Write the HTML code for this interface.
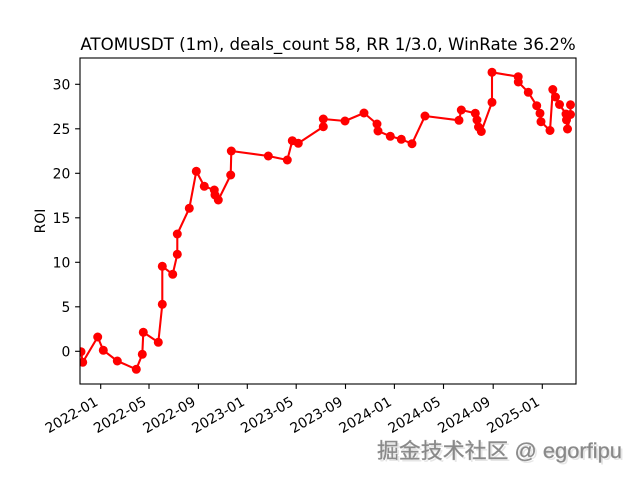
<!DOCTYPE html>
<html>
<head>
<meta charset="utf-8">
<style>
html,body{margin:0;padding:0;background:#fff;}
svg{display:block;}
text{font-family:"DejaVu Sans","Liberation Sans",sans-serif;fill:#000;}
</style>
</head>
<body>
<svg width="640" height="480" viewBox="0 0 640 480" xmlns="http://www.w3.org/2000/svg">
<rect x="0" y="0" width="640" height="480" fill="#fff"/>
<defs>
<clipPath id="ax"><rect x="80" y="58" width="496" height="326"/></clipPath>
</defs>

<!-- title -->
<text x="328" y="50" font-size="16.67" text-anchor="middle">ATOMUSDT (1m), deals_count 58, RR 1/3.0, WinRate 36.2%</text>

<!-- data -->
<g clip-path="url(#ax)">
<polyline fill="none" stroke="#ff0000" stroke-width="2.08" stroke-linejoin="round" points="
81,351.7 82.7,362.3 97.7,337 103.3,350.3 117.3,361 136.3,369.3 142.3,354.3 143.3,332.3 158.3,342.3 162.3,304.3 162.3,266.3 172.7,274.3 177.3,254.3 177.3,234 189.3,208.3 196.3,171.3 204.3,186.3 214.3,190 215,195 218.3,200 230.7,175 231.3,151 268.3,156 287.3,160 292.3,140.7 298.3,143.3 323.3,126.7 323.3,119 345,121 364,113 377,124 378,131 390.3,136.3 401.3,139.3 412,143.7 425,116 459,120.3 461.3,110 475.3,113.3 477,120 478.5,127 481.3,131.5 492,102.3 492,72.3 518.2,76.7 518.3,82 528.3,92.3 536.7,105.7 540,113.3 541,121.7 550,130.5 552.8,89.5 555.5,97 559.5,104.5 566,114 566.5,120 567.5,129 570.5,114.5 570.5,104.8"/>
<g fill="#ff0000">
<circle cx="81" cy="351.7" r="4.5"/><circle cx="82.7" cy="362.3" r="4.5"/><circle cx="97.7" cy="337" r="4.5"/><circle cx="103.3" cy="350.3" r="4.5"/><circle cx="117.3" cy="361" r="4.5"/><circle cx="136.3" cy="369.3" r="4.5"/><circle cx="142.3" cy="354.3" r="4.5"/><circle cx="143.3" cy="332.3" r="4.5"/><circle cx="158.3" cy="342.3" r="4.5"/><circle cx="162.3" cy="304.3" r="4.5"/><circle cx="162.3" cy="266.3" r="4.5"/><circle cx="172.7" cy="274.3" r="4.5"/><circle cx="177.3" cy="254.3" r="4.5"/><circle cx="177.3" cy="234" r="4.5"/><circle cx="189.3" cy="208.3" r="4.5"/><circle cx="196.3" cy="171.3" r="4.5"/><circle cx="204.3" cy="186.3" r="4.5"/><circle cx="214.3" cy="190" r="4.5"/><circle cx="215" cy="195" r="4.5"/><circle cx="218.3" cy="200" r="4.5"/><circle cx="230.7" cy="175" r="4.5"/><circle cx="231.3" cy="151" r="4.5"/><circle cx="268.3" cy="156" r="4.5"/><circle cx="287.3" cy="160" r="4.5"/><circle cx="292.3" cy="140.7" r="4.5"/><circle cx="298.3" cy="143.3" r="4.5"/><circle cx="323.3" cy="126.7" r="4.5"/><circle cx="323.3" cy="119" r="4.5"/><circle cx="345" cy="121" r="4.5"/><circle cx="364" cy="113" r="4.5"/><circle cx="377" cy="124" r="4.5"/><circle cx="378" cy="131" r="4.5"/><circle cx="390.3" cy="136.3" r="4.5"/><circle cx="401.3" cy="139.3" r="4.5"/><circle cx="412" cy="143.7" r="4.5"/><circle cx="425" cy="116" r="4.5"/><circle cx="459" cy="120.3" r="4.5"/><circle cx="461.3" cy="110" r="4.5"/><circle cx="475.3" cy="113.3" r="4.5"/><circle cx="477" cy="120" r="4.5"/><circle cx="478.5" cy="127" r="4.5"/><circle cx="481.3" cy="131.5" r="4.5"/><circle cx="492" cy="102.3" r="4.5"/><circle cx="492" cy="72.3" r="4.5"/><circle cx="518.2" cy="76.7" r="4.5"/><circle cx="518.3" cy="82" r="4.5"/><circle cx="528.3" cy="92.3" r="4.5"/><circle cx="536.7" cy="105.7" r="4.5"/><circle cx="540" cy="113.3" r="4.5"/><circle cx="541" cy="121.7" r="4.5"/><circle cx="550" cy="130.5" r="4.5"/><circle cx="552.8" cy="89.5" r="4.5"/><circle cx="555.5" cy="97" r="4.5"/><circle cx="559.5" cy="104.5" r="4.5"/><circle cx="566" cy="114" r="4.5"/><circle cx="566.5" cy="120" r="4.5"/><circle cx="567.5" cy="129" r="4.5"/><circle cx="570.5" cy="114.5" r="4.5"/><circle cx="570.5" cy="104.8" r="4.5"/>
</g>
</g>

<!-- axes frame -->
<rect x="80" y="58" width="496" height="326" fill="none" stroke="#000" stroke-width="1.11"/>

<!-- y ticks -->
<g stroke="#000" stroke-width="1.11">
<line x1="75.1" y1="351.3" x2="80" y2="351.3"/>
<line x1="75.1" y1="306.8" x2="80" y2="306.8"/>
<line x1="75.1" y1="262.3" x2="80" y2="262.3"/>
<line x1="75.1" y1="217.8" x2="80" y2="217.8"/>
<line x1="75.1" y1="173.3" x2="80" y2="173.3"/>
<line x1="75.1" y1="128.8" x2="80" y2="128.8"/>
<line x1="75.1" y1="84.3" x2="80" y2="84.3"/>
</g>
<g font-size="13.89" text-anchor="end">
<text x="70.3" y="356.4">0</text>
<text x="70.3" y="311.9">5</text>
<text x="70.3" y="267.4">10</text>
<text x="70.3" y="222.9">15</text>
<text x="70.3" y="178.4">20</text>
<text x="70.3" y="133.9">25</text>
<text x="70.3" y="89.4">30</text>
</g>
<text transform="translate(45,221) rotate(-90)" font-size="13.89" text-anchor="middle">ROI</text>

<!-- x ticks -->
<g stroke="#000" stroke-width="1.11">
<line x1="100.7" y1="384" x2="100.7" y2="388.9"/>
<line x1="149" y1="384" x2="149" y2="388.9"/>
<line x1="198.4" y1="384" x2="198.4" y2="388.9"/>
<line x1="247.3" y1="384" x2="247.3" y2="388.9"/>
<line x1="296.2" y1="384" x2="296.2" y2="388.9"/>
<line x1="345.5" y1="384" x2="345.5" y2="388.9"/>
<line x1="394.4" y1="384" x2="394.4" y2="388.9"/>
<line x1="443.5" y1="384" x2="443.5" y2="388.9"/>
<line x1="493.2" y1="384" x2="493.2" y2="388.9"/>
<line x1="542.3" y1="384" x2="542.3" y2="388.9"/>
</g>
<g font-size="13.89" text-anchor="end">
<text transform="translate(99,404.5) rotate(-30)">2022-01</text>
<text transform="translate(147.3,404.5) rotate(-30)">2022-05</text>
<text transform="translate(196.7,404.5) rotate(-30)">2022-09</text>
<text transform="translate(245.6,404.5) rotate(-30)">2023-01</text>
<text transform="translate(294.5,404.5) rotate(-30)">2023-05</text>
<text transform="translate(343.8,404.5) rotate(-30)">2023-09</text>
<text transform="translate(392.7,404.5) rotate(-30)">2024-01</text>
<text transform="translate(441.8,404.5) rotate(-30)">2024-05</text>
<text transform="translate(491.5,404.5) rotate(-30)">2024-09</text>
<text transform="translate(540.6,404.5) rotate(-30)">2025-01</text>
</g>

<!-- watermark -->
<text x="379" y="460" font-size="21" textLength="245" lengthAdjust="spacingAndGlyphs" style="font-family:'Liberation Sans','Noto Sans CJK SC',sans-serif;fill:#e6e6e6;">掘金技术社区 @ egorfipu</text>
<text x="377" y="458" font-size="21" textLength="245" lengthAdjust="spacingAndGlyphs" style="font-family:'Liberation Sans','Noto Sans CJK SC',sans-serif;fill:#878787;stroke:#9a9a9a;stroke-width:0.4;">掘金技术社区 @ egorfipu</text>
</svg>
</body>
</html>
